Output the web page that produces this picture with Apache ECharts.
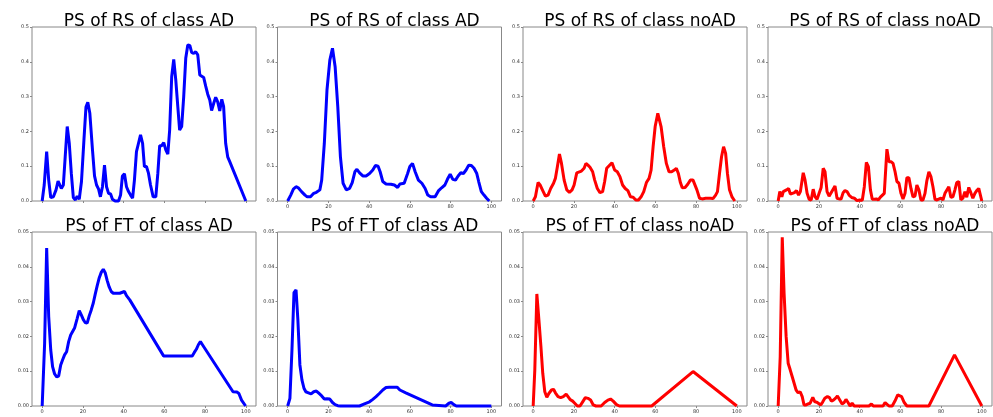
<!DOCTYPE html>
<html><head><meta charset="utf-8">
<script src="https://cdn.jsdelivr.net/npm/echarts@6/dist/echarts.min.js"></script>
<style>html,body{margin:0;padding:0;background:#fff}#c{width:993px;height:417px}</style>
</head><body><div id="c"></div>
<script>
const xTickValues = [0, 20, 40, 60, 80, 100];
const titles = ["PS of RS of class AD", "PS of RS of class AD", "PS of RS of class noAD", "PS of RS of class noAD",
                "PS of FT of class AD", "PS of FT of class AD", "PS of FT of class noAD", "PS of FT of class noAD"];
const classColors = ["#0000ff", "#0000ff", "#ff0000", "#ff0000"];

const rsAD1 = [[0,0],[1,0.046],[2.2,0.142],[3.2,0.06],[4.2,0.01],[5.5,0.012],[6.8,0.032],[7.8,0.057],[8.7,0.062],[9.4,0.036],[10.4,0.046],[11.3,0.127],[12.3,0.214],[13.3,0.166],[14.3,0.08],[15.3,0.01],[16.3,0.003],[17.2,0.014],[18.2,0.005],[19.3,0.056],[20.5,0.175],[21.5,0.27],[22.4,0.284],[23.4,0.252],[24.7,0.147],[25.7,0.072],[26.7,0.046],[27.7,0.034],[28.6,0.012],[29.6,0.041],[30.6,0.103],[31.6,0.041],[32.6,0.022],[33.6,0.02],[34.5,0.005],[35.8,0],[37.5,0],[38.5,0.017],[39.4,0.072],[40.4,0.078],[41.4,0.041],[42.4,0.027],[43.4,0.017],[44.4,0.008],[45.3,0.06],[46.3,0.142],[47.3,0.166],[48.3,0.19],[49.3,0.166],[50.2,0.099],[51.2,0.099],[52.2,0.08],[53.2,0.046],[54.5,0.012],[55.8,0.012],[56.8,0.08],[57.7,0.159],[58.7,0.159],[59.7,0.168],[60.7,0.147],[61.7,0.135],[62.6,0.204],[63.6,0.357],[64.6,0.407],[65.6,0.348],[66.6,0.271],[67.5,0.204],[68.5,0.214],[69.5,0.3],[70.5,0.41],[71.5,0.448],[72.5,0.447],[73.4,0.427],[74.4,0.424],[75.4,0.429],[76.4,0.42],[77.4,0.362],[78.3,0.365],[79.3,0.355],[80.3,0.33],[81.3,0.307],[82.3,0.29],[83.2,0.26],[84.2,0.28],[85.2,0.298],[86.2,0.285],[87.2,0.259],[88.2,0.292],[89.1,0.271],[90.1,0.166],[91.1,0.127],[92.1,0.113],[100,0]];

const rsAD2 = [[0,0],[1.5,0.017],[2.8,0.034],[4.1,0.041],[5.2,0.038],[6.8,0.027],[8.5,0.017],[9.6,0.012],[11.2,0.012],[12.8,0.022],[14.1,0.025],[15.8,0.032],[16.7,0.06],[18,0.166],[19.3,0.319],[20.7,0.405],[22,0.439],[23.3,0.386],[24.6,0.271],[25.9,0.127],[27.2,0.051],[28.8,0.032],[30.4,0.036],[31.7,0.053],[33,0.084],[34,0.091],[35.3,0.081],[36.9,0.072],[38.5,0.072],[40.2,0.079],[41.8,0.089],[43.1,0.102],[44.4,0.1],[45.4,0.084],[46.7,0.056],[48.3,0.049],[50.7,0.048],[52.4,0.046],[54,0.039],[55.1,0.049],[57.2,0.051],[58.9,0.079],[60,0.099],[61.3,0.108],[62.6,0.084],[64.2,0.06],[65.9,0.051],[67.5,0.036],[68.8,0.017],[70.2,0.012],[72.4,0.012],[74,0.029],[75.6,0.038],[77.2,0.046],[78.5,0.063],[79.8,0.077],[81.1,0.062],[82.4,0.06],[83.7,0.072],[85,0.081],[86.3,0.079],[87.6,0.089],[88.9,0.103],[90.2,0.102],[91.5,0.094],[92.8,0.08],[93.8,0.056],[95.1,0.027],[96.4,0.017],[97.7,0.008],[99,0]];

const rsNoAD1 = [[0,0],[1.1,0.012],[2.4,0.053],[3.4,0.046],[4.7,0.03],[6,0.014],[7.3,0.017],[8.6,0.036],[10,0.051],[10.9,0.065],[11.9,0.099],[12.9,0.135],[13.9,0.108],[15.2,0.06],[16.5,0.032],[17.8,0.025],[19.1,0.032],[20.1,0.046],[21.4,0.081],[22.3,0.084],[23.7,0.086],[25,0.094],[25.9,0.108],[26.9,0.103],[27.9,0.097],[29.2,0.084],[30.2,0.06],[31.5,0.036],[32.8,0.024],[34.1,0.027],[35.1,0.056],[36.1,0.094],[37.4,0.102],[38.7,0.11],[40,0.089],[41.3,0.084],[42.6,0.07],[43.9,0.046],[45.2,0.036],[46.5,0.03],[47.8,0.012],[49.1,0.011],[50.4,0.003],[51.7,0.003],[53,0.012],[54.3,0.027],[55.6,0.053],[56.9,0.065],[57.9,0.089],[58.9,0.156],[59.9,0.214],[61.2,0.252],[61.8,0.254],[62.8,0.214],[64.1,0.156],[65.4,0.108],[66.7,0.084],[68,0.084],[69.3,0.089],[70.3,0.094],[71.3,0.079],[72.3,0.053],[73.2,0.038],[74.6,0.039],[75.9,0.048],[77.2,0.06],[78.5,0.06],[79.4,0.056],[80.4,0.032],[81.7,0.008],[83,0.006],[84.7,0.008],[85.6,0.01],[87,0.008],[88.3,0.007],[89.6,0.017],[90.5,0.027],[91.5,0.079],[92.5,0.127],[93.5,0.156],[94.5,0.137],[95.4,0.079],[96.4,0.032],[97.7,0.011],[99,0]];

const rsNoAD2 = [[0,0],[0.8,0.027],[1.8,0.012],[2.5,0.027],[3.4,0.024],[4.1,0.032],[5.1,0.036],[6,0.02],[7,0.022],[8,0.024],[9,0.03],[10,0.017],[10.9,0.027],[12.3,0.081],[13.2,0.06],[14.2,0.022],[15.2,0.005],[16.2,0.003],[17.2,0.034],[18.1,0.012],[19.1,0.005],[20.1,0.022],[21.1,0.039],[22.1,0.094],[23,0.084],[24,0.027],[25,0.014],[26,0.024],[26.9,0.024],[27.9,0.043],[28.9,0.008],[29.9,0.006],[30.9,0.006],[31.9,0.024],[32.8,0.03],[33.8,0.027],[34.8,0.017],[36.1,0.01],[37.4,0.008],[38.7,0.001],[40,0.003],[41.3,0.002],[42.3,0.041],[43.3,0.111],[44.3,0.099],[45.3,0.032],[46.2,0.005],[47.2,0.005],[48.2,0.006],[49.2,0.003],[50.2,0.011],[51.1,0.006],[52.1,0.022],[53.4,0.149],[54.4,0.113],[55.4,0.113],[56.4,0.108],[57.4,0.084],[58.3,0.056],[59.3,0.051],[60.3,0.022],[61.3,0.006],[62.3,0.022],[63.2,0.067],[64.2,0.067],[65.2,0.036],[66.2,0.012],[67.2,0.014],[68.1,0.046],[69.1,0.032],[70.1,0.003],[71.1,0.003],[72.1,0.022],[73,0.058],[74,0.084],[75,0.07],[76,0.041],[77,0.005],[78,0.003],[78.9,0.003],[79.9,0.008],[80.9,0.003],[81.9,0.022],[82.8,0.02],[83.8,0.041],[84.8,0.011],[85.8,0.012],[86.8,0.032],[87.7,0.053],[88.7,0.056],[89.7,0.003],[90.7,0.008],[91.7,0.027],[92.6,0.011],[93.6,0.039],[94.6,0.024],[95.6,0.008],[96.6,0.022],[97.5,0.03],[98.5,0.036],[99.2,0.038],[100,0]];

const ftAD1 = [[0,0],[1.2,0.018],[2.2,0.0454],[3.2,0.0257],[4.2,0.0161],[5.1,0.0113],[6.1,0.0092],[7.1,0.0084],[8.1,0.0086],[9.1,0.0118],[10,0.0132],[11,0.0147],[12,0.0156],[13,0.0185],[14,0.0204],[14.9,0.0207],[15.9,0.0224],[17.2,0.0252],[18.2,0.0274],[19.2,0.0262],[20.2,0.0248],[21.1,0.024],[22.1,0.0238],[23.1,0.0259],[24.1,0.0276],[25.1,0.0296],[26,0.032],[27,0.0345],[28,0.0368],[29,0.0384],[30,0.0393],[31,0.0382],[31.9,0.0361],[32.9,0.0342],[33.9,0.0329],[34.9,0.0324],[38.1,0.0324],[40.4,0.0329],[41.4,0.0317],[43,0.0305],[59.6,0.0144],[73.7,0.0144],[74.7,0.0154],[75.7,0.0163],[76.7,0.0176],[77.7,0.0185],[78.7,0.0176],[93.7,0.0041],[95.6,0.004],[96.6,0.0036],[97.9,0.0017],[99.9,0]];

const ftAD2 = [[0,0],[1.1,0.0022],[2.1,0.0161],[3.1,0.0326],[4.1,0.0334],[5,0.0248],[6,0.0118],[7,0.0075],[8,0.0051],[8.9,0.0041],[10.2,0.0038],[11.5,0.0035],[12.8,0.0041],[14.1,0.0043],[15.4,0.0036],[16.7,0.0029],[18,0.002],[19.3,0.0021],[20.7,0.002],[22,0.001],[23.3,0.0004],[24.6,0.0001],[25.9,0],[35.3,0],[37.7,0.0006],[40.2,0.0012],[41.8,0.0019],[43.4,0.0027],[45,0.0036],[46.7,0.0046],[48.3,0.0053],[49.9,0.0054],[53.8,0.0054],[55.1,0.0046],[58,0.0038],[71,0.0003],[71.9,0],[77.6,0],[79.2,0.0008],[80.3,0.001],[81.6,0.0004],[82.8,0],[100,0]];

const ftNoAD1 = [[0,0],[0.8,0.0104],[1.8,0.0322],[2.8,0.0248],[3.8,0.0171],[4.7,0.0094],[5.7,0.0041],[6.7,0.0025],[7.7,0.0036],[9,0.0046],[10,0.0048],[10.9,0.0038],[12.2,0.0027],[13.5,0.0024],[14.8,0.0027],[16.2,0.0034],[17.1,0.0032],[18.1,0.0019],[19.4,0.0014],[20.4,0.0008],[21.7,0],[23,0],[24.3,0.0012],[25.6,0.0024],[26.9,0.0022],[28.2,0.0017],[29.5,0.0003],[30.8,0],[33.4,0],[35.1,0.001],[36.7,0.0017],[38,0.002],[39.3,0.0014],[40.9,0.0004],[42.3,0],[58.2,0],[78.5,0.0099],[100,0]];

const ftNoAD2 = [[0,0],[1,0.0142],[2,0.0485],[2.9,0.0324],[3.9,0.02],[4.9,0.0123],[5.9,0.0104],[6.9,0.0084],[7.8,0.008],[8.8,0.0046],[9.8,0.0038],[10.8,0.0041],[11.8,0.0027],[12.7,0.0003],[13.7,0.0003],[14.7,0.0006],[15.7,0.0008],[17,0.0025],[18,0.0012],[19,0.0011],[19.9,0.0006],[20.9,0.0003],[21.9,0.0012],[22.9,0.0022],[24.2,0.0027],[25.2,0.0024],[26.1,0.0014],[27.1,0.0017],[28.1,0.0022],[29.1,0.0029],[30.1,0.0019],[31.4,0.0006],[32.4,0.001],[33.3,0.0019],[34.3,0.001],[35.3,0],[36.3,0.0008],[37.3,0],[44.6,0],[45.8,0.0006],[46.7,0],[51.5,0],[52.5,0.001],[53.4,0.0012],[54.4,0],[56,0],[57.4,0.0015],[58.7,0.0032],[59.6,0.0036],[60.6,0.0027],[61.9,0.001],[63.2,0],[74,0],[86.6,0.0147],[100,0]];

const seriesData = [rsAD1, rsAD2, rsNoAD1, rsNoAD2, ftAD1, ftAD2, ftNoAD1, ftNoAD2];
const yMax = [0.5, 0.05];
const yStep = [0.1, 0.01];
const yDigits = [1, 2];

const gridLefts = [32, 277.5, 523, 768];
const gridWidth = 224;
const gridTops = [27, 232];
const gridHeight = 174;
const spine = '#888';

const chart = echarts.init(document.getElementById('c'), null, {renderer: 'canvas'});
const grid = [], xAxis = [], yAxis = [], series = [], title = [];
for (let i = 0; i < 8; i++) {
  const row = Math.floor(i / 4), col = i % 4;
  grid.push({left: gridLefts[col], top: gridTops[row], width: gridWidth, height: gridHeight,
    show: true, borderColor: spine, borderWidth: 1, backgroundColor: 'transparent', containLabel: false});
  title.push({text: titles[i], left: gridLefts[col] + gridWidth / 2, top: gridTops[row] - 19, textAlign: 'center',
    textStyle: {fontFamily: 'DejaVu Sans', fontSize: 17, fontWeight: 'normal', color: '#000'}});
  xAxis.push({type: 'value', gridIndex: i, min: -5, max: 105, position: 'bottom',
    axisLine: {show: false, onZero: false}, splitLine: {show: false},
    axisTick: {show: true, customValues: xTickValues, length: 2, lineStyle: {color: spine}},
    axisLabel: {show: i !== 0, customValues: xTickValues, fontSize: 5, fontFamily: 'DejaVu Sans', color: '#333', margin: 3}});
  yAxis.push({type: 'value', gridIndex: i, min: 0, max: yMax[row], interval: yStep[row], position: 'left',
    axisLine: {show: false, onZero: false}, splitLine: {show: false},
    axisTick: {show: true, length: 2, lineStyle: {color: spine}},
    axisLabel: {fontSize: 5, fontFamily: 'DejaVu Sans', color: '#333', margin: 3,
      formatter: v => v.toFixed(yDigits[row])}});
  series.push({type: 'line', xAxisIndex: i, yAxisIndex: i, data: seriesData[i], symbol: 'none',
    lineStyle: {color: classColors[col], width: 3}, clip: false, animation: false});
}
chart.setOption({animation: false, backgroundColor: '#fff', title, grid, xAxis, yAxis, series});
</script>
</body></html>
